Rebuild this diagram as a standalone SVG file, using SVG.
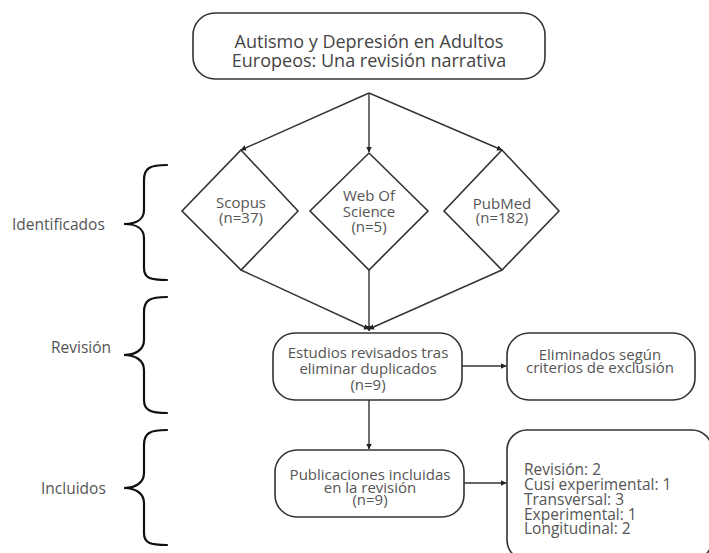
<svg xmlns="http://www.w3.org/2000/svg" width="709" height="553" viewBox="0 0 709 553">
<style>
.box{fill:#fff;stroke:#333;stroke-width:1.6}
.t{font-family:"Open Sans","Noto Sans",sans-serif;font-size:15px;fill:#555;text-anchor:middle}
.tt{font-family:"Open Sans","Noto Sans",sans-serif;font-size:18px;fill:#444;text-anchor:middle}
.tl{font-family:"Open Sans","Noto Sans",sans-serif;font-size:15.5px;fill:#555}
.c{fill:none;stroke:#333;stroke-width:1.4}
.br{fill:none;stroke:#111;stroke-width:2.2;stroke-linecap:round}
</style>
<defs>
<marker id="a" viewBox="0 0 6 6" refX="5.5" refY="3" markerWidth="4" markerHeight="4" orient="auto-start-reverse">
<path d="M0,0L6,3L0,6z" fill="#222"/>
</marker>
</defs>
<rect width="709" height="553" fill="#fff"/>
<g id="connectors">
<path class="c" d="M369,93L241,150" marker-end="url(#a)"/>
<path class="c" d="M369,93L369,152" marker-end="url(#a)"/>
<path class="c" d="M369,93L502,150" marker-end="url(#a)"/>
<path class="c" d="M241,270L369,329" marker-end="url(#a)"/>
<path class="c" d="M369,270L369,331" marker-end="url(#a)"/>
<path class="c" d="M502,270L369,329" marker-end="url(#a)"/>
<path class="c" d="M462,366L506,366" marker-end="url(#a)"/>
<path class="c" d="M369,400L369,449" marker-end="url(#a)"/>
<path class="c" d="M464,483L506,483" marker-end="url(#a)"/>
</g>
<g id="title">
<rect class="box" x="193" y="13" width="352" height="66" rx="22"/>
<text class="tt" x="369" y="48">Autismo y Depresión en Adultos</text>
<text class="tt" x="369" y="67">Europeos: Una revisión narrativa</text>
</g>
<g id="scopus">
<path class="box" d="M241,150L298,211L241,270L182,211Z"/>
<text class="t" x="241" y="208">Scopus</text>
<text class="t" x="241" y="223">(n=37)</text>
</g>
<g id="wos">
<path class="box" d="M369,153L428,211L369,270L310,211Z"/>
<text class="t" x="369" y="201">Web Of</text>
<text class="t" x="369" y="217">Science</text>
<text class="t" x="369" y="232">(n=5)</text>
</g>
<g id="pubmed">
<path class="box" d="M502,150L559,211L502,270L444,211Z"/>
<text class="t" x="502" y="209">PubMed</text>
<text class="t" x="502" y="223">(n=182)</text>
</g>
<g id="estudios">
<rect class="box" x="273" y="333" width="189" height="67" rx="22"/>
<text class="t" x="368" y="358">Estudios revisados tras</text>
<text class="t" x="368" y="374">eliminar duplicados</text>
<text class="t" x="368" y="390">(n=9)</text>
</g>
<g id="eliminados">
<rect class="box" x="507" y="333" width="188" height="67" rx="22"/>
<text class="t" x="600" y="360">Eliminados según</text>
<text class="t" x="600" y="373">criterios de exclusión</text>
</g>
<g id="publicaciones">
<rect class="box" x="275" y="450" width="189" height="67" rx="22"/>
<text class="t" x="370" y="480">Publicaciones incluidas</text>
<text class="t" x="370" y="493">en la revisión</text>
<text class="t" x="370" y="505">(n=9)</text>
</g>
<g id="resultados">
<rect class="box" x="507" y="430" width="205" height="130" rx="20"/>
<text class="tl" x="524" y="475">Revisión: 2</text>
<text class="tl" x="524" y="490">Cusi experimental: 1</text>
<text class="tl" x="524" y="505">Transversal: 3</text>
<text class="tl" x="524" y="520">Experimental: 1</text>
<text class="tl" x="524" y="534">Longitudinal: 2</text>
</g>
<g id="identificados">
<path class="br" d="M167,165C150,165 144,168 144,180L144,210C144,220 135,224 124,224C135,224 144,228 144,238L144,268C144,278 150,280 167,280"/>
<text class="tl" x="12" y="230" font-size="15">Identificados</text>
</g>
<g id="revision">
<path class="br" d="M167,297C150,297 144,300 144,312L144,340C144,350 135,355 124,355C135,355 144,360 144,370L144,400C144,410 150,413 167,413"/>
<text class="tl" x="51" y="353">Revisión</text>
</g>
<g id="incluidos">
<path class="br" d="M167,430C150,430 144,433 144,445L144,473C144,483 135,488 124,488C135,488 144,493 144,503L144,533C144,543 150,545 167,545"/>
<text class="tl" x="41" y="494">Incluidos</text>
</g>
</svg>
